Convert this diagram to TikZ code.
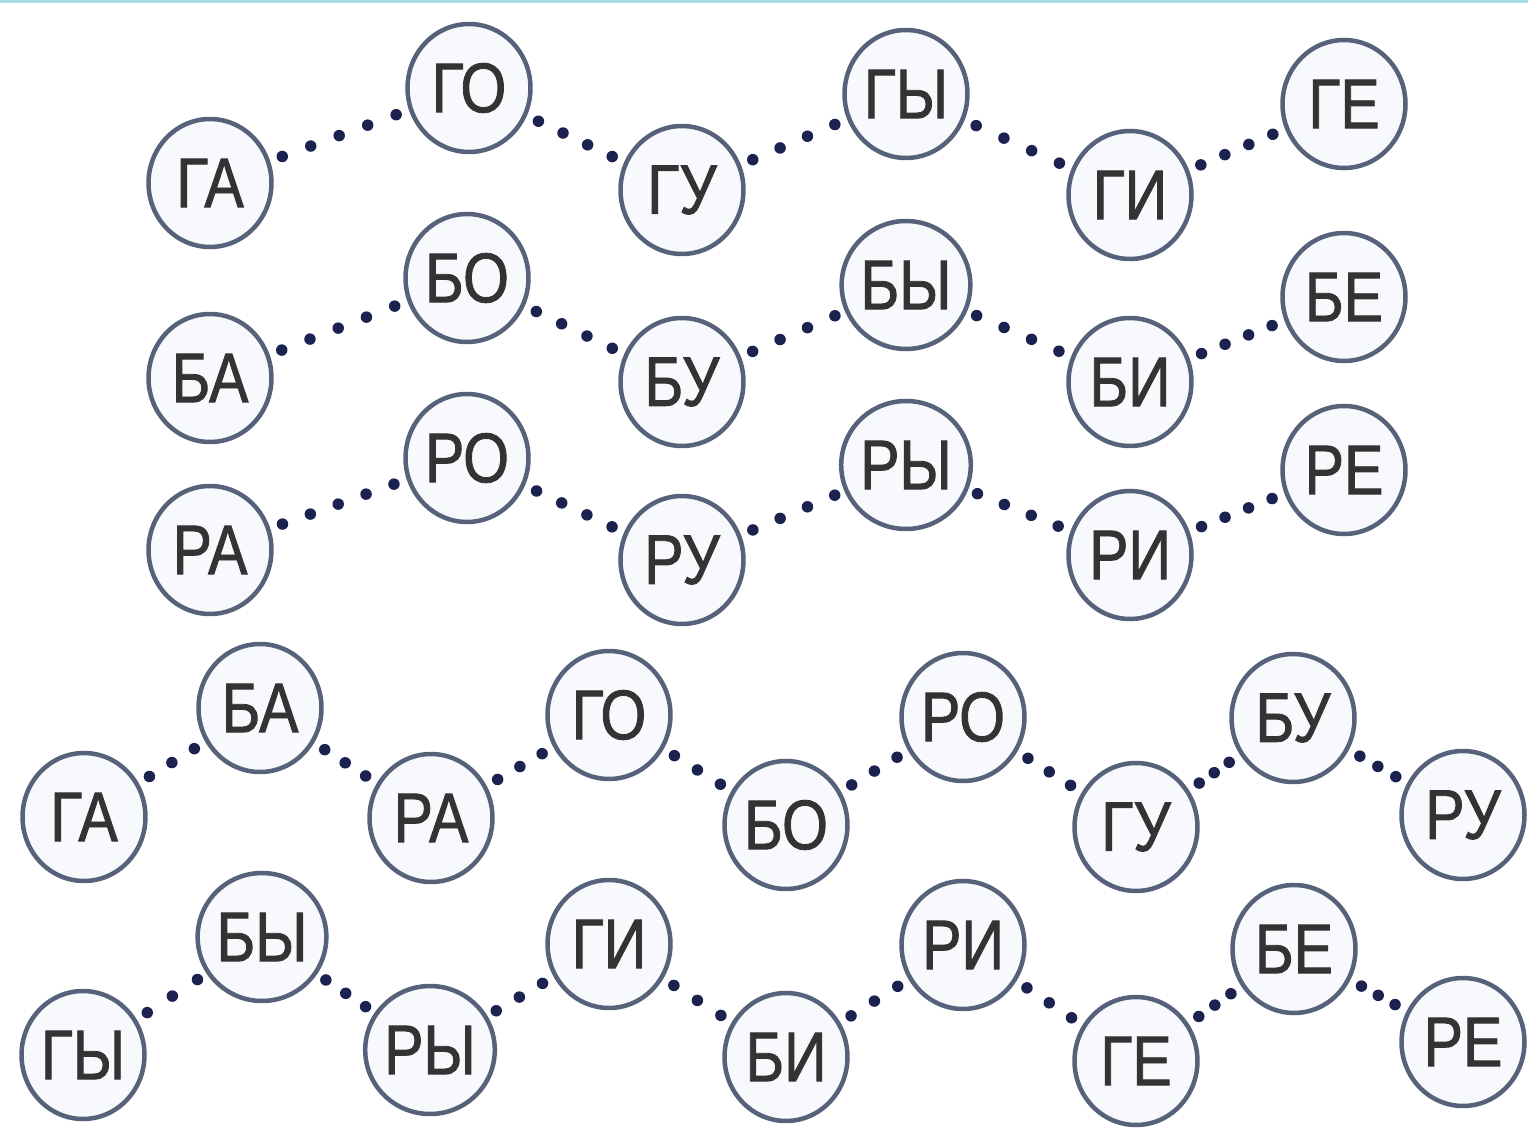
\documentclass[tikz,border=0pt]{standalone}
\usepackage{fontspec}
\setmainfont{Liberation Sans}[FakeStretch=0.84,FakeBold=1.2]
\usetikzlibrary{calc,shapes.geometric}
\definecolor{ringc}{HTML}{56627A}
\definecolor{fillc}{HTML}{F7F9FD}
\definecolor{dotc}{HTML}{1B2250}
\definecolor{txtc}{HTML}{333333}
\definecolor{topc}{HTML}{A9DCE0}
\newcommand{\dotgap}{1.54cm}
\newcommand{\conn}[3]{%
  \draw[dotline] let \p1=($(#2)-(#1)$), \n1={(veclen(\x1,\y1)-2*1.54cm)/(#3-1)*0.995} in
    [dash pattern=on 0pt off \n1] ($(#1)!\dotgap!(#2)$) -- ($(#2)!\dotgap!(#1)$);}
\begin{document}
\begin{tikzpicture}[x=0.02cm,y=-0.02cm,
  syl/.style={ellipse, draw=ringc, fill=fillc, line width=0.09cm,
    minimum width=2.46cm, minimum height=2.56cm, inner sep=0pt,
    text=txtc, font=\fontsize{40}{42}\selectfont},
  dotline/.style={draw=dotc, line width=0.23cm, line cap=round}]
\useasboundingbox (0,0) rectangle (1528,1131);
\fill[white] (0,0) rectangle (1528,1131);
\fill[topc] (0,0) rectangle (1528,3);
% top block
\node[syl] (tGA) at (210,183) {ГА};
\node[syl] (tGO) at (469,88) {ГО};
\node[syl] (tGU) at (682,190) {ГУ};
\node[syl] (tGY) at (906,94) {ГЫ};
\node[syl] (tGI) at (1130,195) {ГИ};
\node[syl] (tGE) at (1344,104) {ГЕ};
\node[syl] (tBA) at (210,378) {БА};
\node[syl] (tBO) at (467,278) {БО};
\node[syl] (tBU) at (682,382) {БУ};
\node[syl] (tBY) at (906,285) {БЫ};
\node[syl] (tBI) at (1130,382) {БИ};
\node[syl] (tBE) at (1344,297) {БЕ};
\node[syl] (tRA) at (210,550) {РА};
\node[syl] (tRO) at (467,458) {РО};
\node[syl] (tRU) at (682,560) {РУ};
\node[syl] (tRY) at (906,465) {РЫ};
\node[syl] (tRI) at (1130,555) {РИ};
\node[syl] (tRE) at (1344,470) {РЕ};
% bottom block
\node[syl] (aGA) at (84,817) {ГА};
\node[syl] (aBA) at (260,708) {БА};
\node[syl] (aRA) at (431,818) {РА};
\node[syl] (aGO) at (609,715) {ГО};
\node[syl] (aBO) at (786,825) {БО};
\node[syl] (aRO) at (963,717) {РО};
\node[syl] (aGU) at (1136,827) {ГУ};
\node[syl] (aBU) at (1293,718) {БУ};
\node[syl] (aRU) at (1463,815) {РУ};
\node[syl] (bGY) at (83,1055) {ГЫ};
\node[syl] (bBY) at (262,937) {БЫ};
\node[syl] (bRY) at (430,1050) {РЫ};
\node[syl] (bGI) at (609,944) {ГИ};
\node[syl] (bBI) at (786,1057) {БИ};
\node[syl] (bRI) at (963,945) {РИ};
\node[syl] (bGE) at (1136,1061) {ГЕ};
\node[syl] (bBE) at (1294,949) {БЕ};
\node[syl] (bRE) at (1463,1042) {РЕ};
% connectors top
\conn{tGA}{tGO}{5}\conn{tGO}{tGU}{4}\conn{tGU}{tGY}{4}\conn{tGY}{tGI}{4}\conn{tGI}{tGE}{4}
\conn{tBA}{tBO}{5}\conn{tBO}{tBU}{4}\conn{tBU}{tBY}{4}\conn{tBY}{tBI}{4}\conn{tBI}{tBE}{4}
\conn{tRA}{tRO}{5}\conn{tRO}{tRU}{4}\conn{tRU}{tRY}{4}\conn{tRY}{tRI}{4}\conn{tRI}{tRE}{4}
% connectors bottom
\conn{aGA}{aBA}{3}\conn{aBA}{aRA}{3}\conn{aRA}{aGO}{3}\conn{aGO}{aBO}{3}
\conn{aBO}{aRO}{3}\conn{aRO}{aGU}{3}\conn{aGU}{aBU}{3}\conn{aBU}{aRU}{3}
\conn{bGY}{bBY}{3}\conn{bBY}{bRY}{3}\conn{bRY}{bGI}{3}\conn{bGI}{bBI}{3}
\conn{bBI}{bRI}{3}\conn{bRI}{bGE}{3}\conn{bGE}{bBE}{3}\conn{bBE}{bRE}{3}
\end{tikzpicture}
\end{document}
